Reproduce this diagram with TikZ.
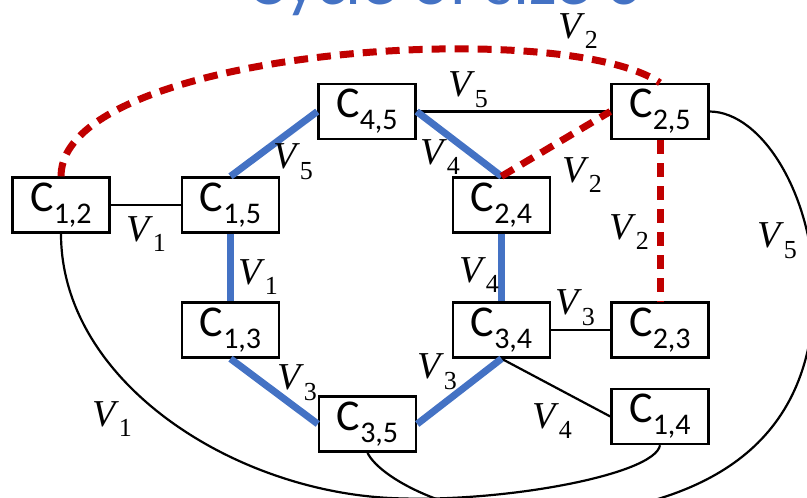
\documentclass[tikz,border=0pt]{standalone}
\usepackage{fontspec}
\setmainfont{Liberation Serif}
\newfontfamily\calfont{Carlito}
\usepackage{tikz}
\usetikzlibrary{calc}

\definecolor{cycblue}{HTML}{4472C4}
\definecolor{altred}{HTML}{C00000}

\newcommand{\cv}[1]{C\raisebox{-0.27em}{\fontsize{30}{30}\selectfont #1}}
\newcommand{\vv}[1]{\textit{V}\raisebox{-0.28em}{\fontsize{26}{26}\selectfont #1}}

\begin{document}
\begin{tikzpicture}[x=1pt, y=-1pt,
    cl/.style={draw, fill=white, line width=2.4pt, minimum width=97pt, minimum height=55pt, inner sep=0pt, font=\calfont\fontsize{44}{48}\selectfont},
    lb/.style={font=\fontsize{38}{40}\selectfont, inner sep=0pt},
    plain/.style={black, line width=2.2pt},
    cyc/.style={cycblue, line width=7pt},
    alt/.style={altred, line width=7pt, dash pattern=on 14pt off 9pt}]
    \useasboundingbox (0,0) rectangle (807,498);
    \clip (0,0) rectangle (807,498);
    \node[anchor=base, text=cycblue, font=\calfont\fontsize{70}{80}\selectfont] (title) at (445,4) {Cycle of size 6};
    \node[cl] (C12) at (61,205) {\cv{1,2}};
    \node[cl] (C15) at (230.5,205) {\cv{1,5}};
    \node[cl] (C45) at (367,111.5) {\cv{4,5}};
    \node[cl] (C25) at (660,111.5) {\cv{2,5}};
    \node[cl] (C24) at (501.5,205) {\cv{2,4}};
    \node[cl] (C13) at (230.5,330) {\cv{1,3}};
    \node[cl] (C34) at (501.5,330) {\cv{3,4}};
    \node[cl] (C23) at (660,330) {\cv{2,3}};
    \node[cl] (C35) at (367.5,424) {\cv{3,5}};
    \node[cl] (C14) at (660,416.5) {\cv{1,4}};
    \foreach \i/\j in {C12.east/C15.west, C45.east/C25.west, C34.east/C23.west, C34.south/C14.west} {
        \draw[plain] (\i)--(\j);
    }
    \foreach \i/\j in {C15.north/C45.west, C45.east/C24.north, C15.south/C13.north, C24.south/C34.north, C13.south/C35.west, C34.south/C35.east} {
        \draw[cyc] (\i)--(\j);
    }
    \foreach \i/\j in {C24.north/C25.west, C25.south/C23.north} {
        \draw[alt] (\i)--(\j);
    }
    \draw[alt] (C12.north) .. controls (61,50) and (560,15) .. (C25.north);
    \coordinate (bA) at (390,498);
    \coordinate (bB1) at (814,290);
    \coordinate (bB2) at (580,515);
    \draw[plain] (C12.south) .. controls (61,380) and (230,490) .. (bA)
        .. controls (500,503.5) and (655,475) .. (C14.south);
    \draw[plain] (C25.east) .. controls (762,112) and (813,195) .. (bB1)
        .. controls (814,450) and (700,500) .. (bB2)
        .. controls (470,528.75) and (380,480) .. (C35.south);
    \node[lb] (l1) at (146,234) {\vv{1}};
    \node[lb] (l2) at (258,277) {\vv{1}};
    \node[lb] (l3) at (293,162) {\vv{5}};
    \node[lb] (l4) at (468,90) {\vv{5}};
    \node[lb] (l5) at (440,157) {\vv{4}};
    \node[lb] (l6) at (582,175) {\vv{2}};
    \node[lb] (l7) at (578,31) {\vv{2}};
    \node[lb] (l8) at (629,232) {\vv{2}};
    \node[lb] (l9) at (777,241) {\vv{5}};
    \node[lb] (l10) at (479,275) {\vv{4}};
    \node[lb] (l11) at (575,308) {\vv{3}};
    \node[lb] (l12) at (297,383) {\vv{3}};
    \node[lb] (l13) at (437,372) {\vv{3}};
    \node[lb] (l14) at (552,421) {\vv{4}};
    \node[lb] (l15) at (112,419) {\vv{1}};
\end{tikzpicture}
\end{document}
